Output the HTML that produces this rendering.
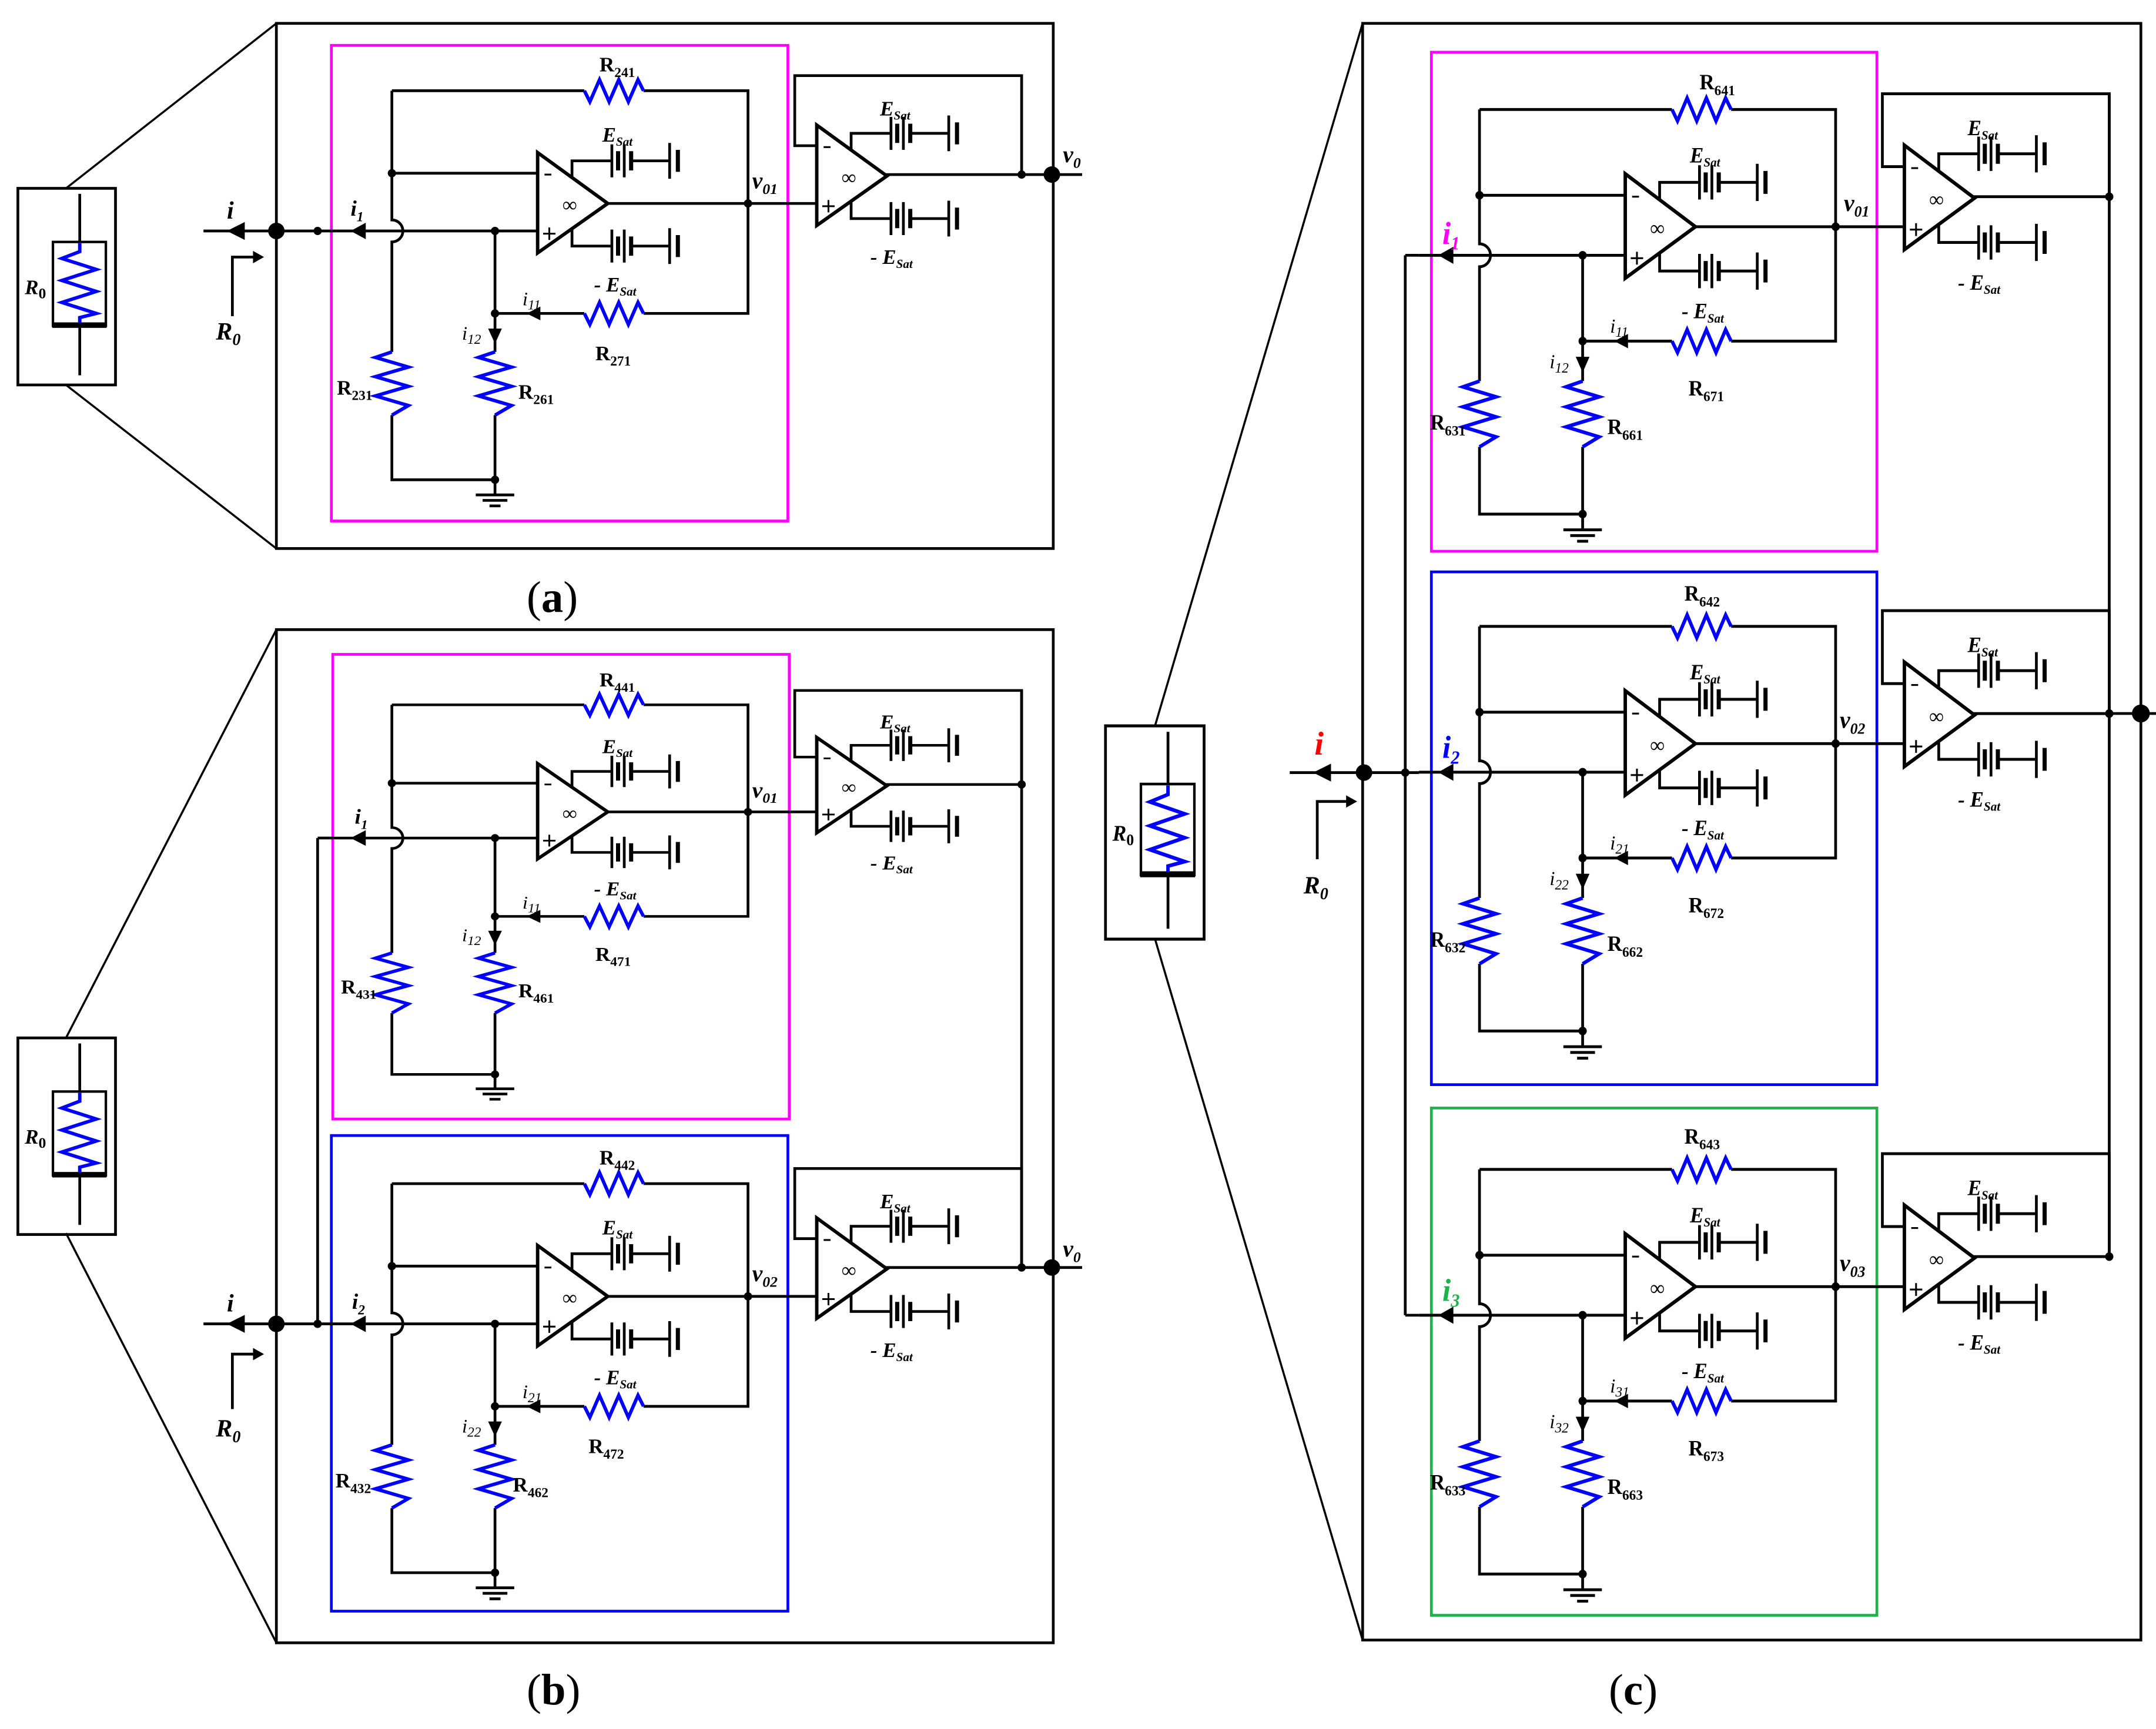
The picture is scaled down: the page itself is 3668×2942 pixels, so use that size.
<!DOCTYPE html>
<html><head><meta charset="utf-8"><style>
html,body{margin:0;padding:0;background:#fff}
svg{display:block}
text{font-family:"Liberation Serif",serif;fill:#000}
.r{font-size:15px;font-weight:bold}
.rs{font-size:10px}
.e{font-size:15px;font-weight:bold;font-style:italic}
.es{font-size:9px}
.v{font-size:17px;font-weight:bold;font-style:italic}
.vs{font-size:11px}
.i{font-size:14px;font-style:italic}
.is{font-size:10px}
.ib{font-size:18px;font-weight:bold;font-style:italic}
.cap{font-size:32px}
</style></head><body>
<svg width="3668" height="2942" viewBox="0 0 1568 1257.7" preserveAspectRatio="none" xmlns="http://www.w3.org/2000/svg">
<defs>
<g id="bat" fill="none" stroke="#000">
<path d="M0,-12V12M9,-12V12M42,-13V13" stroke-width="2"/>
<path d="M4.5,-7V7M14,-7V7M48,-8V8" stroke-width="3"/>
<path d="M14,0H42" stroke-width="2"/>
</g>
<g id="op">
<path d="M0,0V73L51,37Z" fill="none" stroke="#000" stroke-width="2.5"/>
<path d="M5,16H10M4,59H13M8.5,54.5V63.5" stroke="#000" stroke-width="1.3"/>
<text x="18" y="43" style="font-size:15px">∞</text>
<path d="M25,18V6H54M25,55V68H54" fill="none" stroke="#000" stroke-width="2"/>
<use href="#bat" x="54" y="6"/>
<use href="#bat" x="54" y="68"/>
</g>
<g id="stage">
<g fill="none" stroke="#000" stroke-width="2">
<path d="M285,66H425M468,66H544V228H468M425,228H360"/>
<path d="M285,66V160A8,8 0 0 1 285,176V256M285,302V349H360"/>
<path d="M285,126H391M241,168H391"/>
<path d="M360,168V256M360,302V360"/>
<path d="M442,148H594M594,106H578V55H743V127M643,127H743"/>
<path d="M346,360H374M351,364H369M356,368H364"/>
</g>
<g fill="none" stroke="#0000ff" stroke-width="2.5">
<path d="M425,66L429,74L436,58L443,74L450,58L457,74L464,58L468,66"/>
<path d="M468,228L464,220L457,236L450,220L443,236L436,220L429,236L425,228"/>
<path d="M285,256L273,260L297,267L273,274L297,281L273,288L297,295L285,302"/>
<path d="M360,256L348,260L372,267L348,274L372,281L348,288L372,295L360,302"/>
</g>
<g fill="#000">
<circle cx="285" cy="126" r="3"/><circle cx="360" cy="168" r="3"/><circle cx="360" cy="228" r="3"/>
<circle cx="360" cy="349" r="3"/><circle cx="544" cy="148" r="3"/><circle cx="743" cy="127" r="3"/>
<polygon points="255,168 266,162 266,174"/>
<polygon points="383,228 393,223 393,233"/>
<polygon points="360,250 355,239 365,239"/>
</g>
<use href="#op" x="391" y="111"/>
<use href="#op" x="594" y="91"/>
<text class="e" x="438" y="103">E<tspan class="es" dy="3">Sat</tspan></text>
<text class="e" x="432" y="212">- E<tspan class="es" dy="3">Sat</tspan></text>
<text class="e" x="640" y="84">E<tspan class="es" dy="3">Sat</tspan></text>
<text class="e" x="633" y="192">- E<tspan class="es" dy="3">Sat</tspan></text>
</g>
<g id="mini">
<rect x="0" y="0" width="71" height="143" fill="none" stroke="#000" stroke-width="2"/>
<path d="M45,4V39M45,101V136" stroke="#000" stroke-width="2" fill="none"/>
<rect x="25.5" y="39" width="38.5" height="61" fill="none" stroke="#000" stroke-width="1.8"/>
<rect x="25" y="97.5" width="39.5" height="4" fill="#000"/>
<path d="M45,40V46L32,51L57,59L32,67L57,75L32,83L57,91L45,94V98" fill="none" stroke="#0000ff" stroke-width="2.5"/>
<text x="5" y="77" style="font-size:15px;font-weight:bold;font-style:italic">R<tspan style="font-size:11px;font-style:normal" dy="3">0</tspan></text>
</g>
</defs>

<!-- ===== (a) ===== -->
<rect x="201" y="17" width="565" height="382" fill="none" stroke="#000" stroke-width="2"/>
<path d="M48,137L201,17M48,280L201,399" stroke="#000" stroke-width="1.5"/>
<use href="#mini" x="13" y="137"/>
<rect x="241" y="33" width="332" height="346" fill="none" stroke="#ff00ff" stroke-width="2"/>
<use href="#stage"/>
<text class="r" x="436" y="52">R<tspan class="rs" dy="4">241</tspan></text>
<text class="v" x="547" y="137">v<tspan class="vs" dy="4">01</tspan></text>
<text class="r" x="433" y="262">R<tspan class="rs" dy="4">271</tspan></text>
<text class="r" x="245" y="287">R<tspan class="rs" dy="4">231</tspan></text>
<text class="r" x="377" y="290">R<tspan class="rs" dy="4">261</tspan></text>
<text class="ib" x="255" y="157" style="font-size:16px">i<tspan class="is" dy="4">1</tspan></text>
<text class="i" x="380" y="222">i<tspan class="is" dy="3">11</tspan></text>
<text class="i" x="336" y="247">i<tspan class="is" dy="3">12</tspan></text>
<g fill="none" stroke="#000" stroke-width="2">
<path d="M148,168H241M169,230V187H185M743,127H787"/>
</g>
<polygon points="165,168 178,161.5 178,174.5"/><polygon points="192,187 184,182.5 184,191.5"/>
<circle cx="201" cy="168" r="6"/><circle cx="231" cy="168" r="3"/><circle cx="765" cy="127" r="6"/>
<text class="ib" x="165" y="159">i</text>
<text class="ib" x="157" y="247">R<tspan style="font-size:12px" dy="4">0</tspan></text>
<text class="v" x="773" y="118">v<tspan class="vs" dy="4">0</tspan></text>
<text class="cap" x="383" y="445">(<tspan font-weight="bold">a</tspan>)</text>

<!-- ===== (b) ===== -->
<rect x="201" y="458" width="565" height="737" fill="none" stroke="#000" stroke-width="2"/>
<path d="M48,755L201,458M48,897L201,1195" stroke="#000" stroke-width="1.5"/>
<use href="#mini" x="13" y="755"/>
<rect x="242" y="476" width="332" height="338" fill="none" stroke="#ff00ff" stroke-width="2"/>
<rect x="241" y="826" width="332" height="346" fill="none" stroke="#0000ff" stroke-width="2"/>
<g transform="translate(0,450) scale(1,0.95)">
<use href="#stage"/>
<text class="r" x="436" y="52">R<tspan class="rs" dy="4">441</tspan></text>
<text class="v" x="547" y="137">v<tspan class="vs" dy="4">01</tspan></text>
<text class="r" x="433" y="262">R<tspan class="rs" dy="4">471</tspan></text>
<text class="r" x="248" y="287">R<tspan class="rs" dy="4">431</tspan></text>
<text class="r" x="377" y="290">R<tspan class="rs" dy="4">461</tspan></text>
<text class="ib" x="258" y="157" style="font-size:16px">i<tspan class="is" dy="4">1</tspan></text>
<text class="i" x="380" y="222">i<tspan class="is" dy="3">11</tspan></text>
<text class="i" x="336" y="247">i<tspan class="is" dy="3">12</tspan></text>
</g>
<g transform="translate(0,795)">
<use href="#stage"/>
<text class="r" x="436" y="52">R<tspan class="rs" dy="4">442</tspan></text>
<text class="v" x="547" y="137">v<tspan class="vs" dy="4">02</tspan></text>
<text class="r" x="428" y="262">R<tspan class="rs" dy="4">472</tspan></text>
<text class="r" x="244" y="287">R<tspan class="rs" dy="4">432</tspan></text>
<text class="r" x="373" y="290">R<tspan class="rs" dy="4">462</tspan></text>
<text class="ib" x="256" y="157" style="font-size:16px">i<tspan class="is" dy="4">2</tspan></text>
<text class="i" x="380" y="222">i<tspan class="is" dy="3">21</tspan></text>
<text class="i" x="336" y="247">i<tspan class="is" dy="3">22</tspan></text>
</g>
<g fill="none" stroke="#000" stroke-width="2">
<path d="M148,963H241M231,609.6H241M231,609.6V963M169,1025V985H185M743,502V922H787"/>
</g>
<polygon points="165,963 178,956.5 178,969.5"/><polygon points="192,985 184,980.5 184,989.5"/>
<circle cx="201" cy="963" r="6"/><circle cx="231" cy="963" r="3"/><circle cx="765" cy="922" r="6"/>
<circle cx="743" cy="570.6" r="3"/>
<text class="ib" x="165" y="954">i</text>
<text class="ib" x="157" y="1045">R<tspan style="font-size:12px" dy="4">0</tspan></text>
<text class="v" x="773" y="914">v<tspan class="vs" dy="4">0</tspan></text>
<text class="cap" x="383" y="1240">(<tspan font-weight="bold">b</tspan>)</text>

<!-- ===== (c) ===== -->
<rect x="991" y="17" width="566" height="1176" fill="none" stroke="#000" stroke-width="2"/>
<path d="M840,528L991,17M840,683L991,1193" stroke="#000" stroke-width="1.5"/>
<g transform="translate(804,528) scale(1.01,1.085)"><use href="#mini"/></g>
<rect x="1041" y="38" width="324" height="363" fill="none" stroke="#ff00ff" stroke-width="2"/>
<rect x="1041" y="416" width="324" height="373" fill="none" stroke="#0000ff" stroke-width="2"/>
<rect x="1041" y="806" width="324" height="369" fill="none" stroke="#1cb34a" stroke-width="2"/>
<g transform="translate(791,11) scale(1,1.04)">
<use href="#stage"/>
<text class="r" x="445" y="52">R<tspan class="rs" dy="4">641</tspan></text>
<text class="v" x="550" y="137">v<tspan class="vs" dy="4">01</tspan></text>
<text class="r" x="437" y="266">R<tspan class="rs" dy="4">671</tspan></text>
<text class="r" x="249" y="290">R<tspan class="rs" dy="4">631</tspan></text>
<text class="r" x="378" y="293">R<tspan class="rs" dy="4">661</tspan></text>
<text class="ib" x="258" y="160" style="font-size:22px;fill:#ff00ff">i<tspan class="is" dy="4" style="fill:#ff00ff;font-size:13px">1</tspan></text>
<text class="i" x="380" y="222">i<tspan class="is" dy="3">11</tspan></text>
<text class="i" x="336" y="247">i<tspan class="is" dy="3">12</tspan></text>
</g>
<g transform="translate(791,387) scale(1,1.04)">
<use href="#stage"/>
<text class="r" x="434" y="48">R<tspan class="rs" dy="4">642</tspan></text>
<text class="v" x="547" y="137">v<tspan class="vs" dy="4">02</tspan></text>
<text class="r" x="437" y="266">R<tspan class="rs" dy="4">672</tspan></text>
<text class="r" x="249" y="290">R<tspan class="rs" dy="4">632</tspan></text>
<text class="r" x="378" y="293">R<tspan class="rs" dy="4">662</tspan></text>
<text class="ib" x="258" y="158" style="font-size:22px;fill:#0000ff">i<tspan class="is" dy="4" style="fill:#0000ff;font-size:13px">2</tspan></text>
<text class="i" x="380" y="222">i<tspan class="is" dy="3">21</tspan></text>
<text class="i" x="336" y="247">i<tspan class="is" dy="3">22</tspan></text>
</g>
<g transform="translate(791,782) scale(1,1.04)">
<use href="#stage"/>
<text class="r" x="434" y="48">R<tspan class="rs" dy="4">643</tspan></text>
<text class="v" x="547" y="137">v<tspan class="vs" dy="4">03</tspan></text>
<text class="r" x="437" y="266">R<tspan class="rs" dy="4">673</tspan></text>
<text class="r" x="249" y="290">R<tspan class="rs" dy="4">633</tspan></text>
<text class="r" x="378" y="293">R<tspan class="rs" dy="4">663</tspan></text>
<text class="ib" x="258" y="158" style="font-size:22px;fill:#1cb34a">i<tspan class="is" dy="4" style="fill:#1cb34a;font-size:13px">3</tspan></text>
<text class="i" x="380" y="222">i<tspan class="is" dy="3">31</tspan></text>
<text class="i" x="336" y="247">i<tspan class="is" dy="3">32</tspan></text>
</g>
<g fill="none" stroke="#000" stroke-width="2">
<path d="M938,562H1032M1022,185.7H1032M1022,956.7H1032M1022,185.7V956.7"/>
<path d="M1534,68V914M1534,519H1568"/>
<path d="M958,625V583H980"/>
</g>
<polygon points="955,562 968,555.5 968,568.5"/><polygon points="987,583 979,578.5 979,587.5"/>
<circle cx="992" cy="562" r="6"/><circle cx="1022" cy="562" r="3"/><circle cx="1557" cy="519" r="6.5"/>
<circle cx="1534" cy="519" r="3"/>
<text class="ib" x="956" y="549" style="font-size:24px;fill:#ff0000">i</text>
<text class="ib" x="948" y="650">R<tspan style="font-size:12px" dy="4">0</tspan></text>
<text class="cap" x="1170" y="1240">(<tspan font-weight="bold">c</tspan>)</text>
</svg>
</body></html>
